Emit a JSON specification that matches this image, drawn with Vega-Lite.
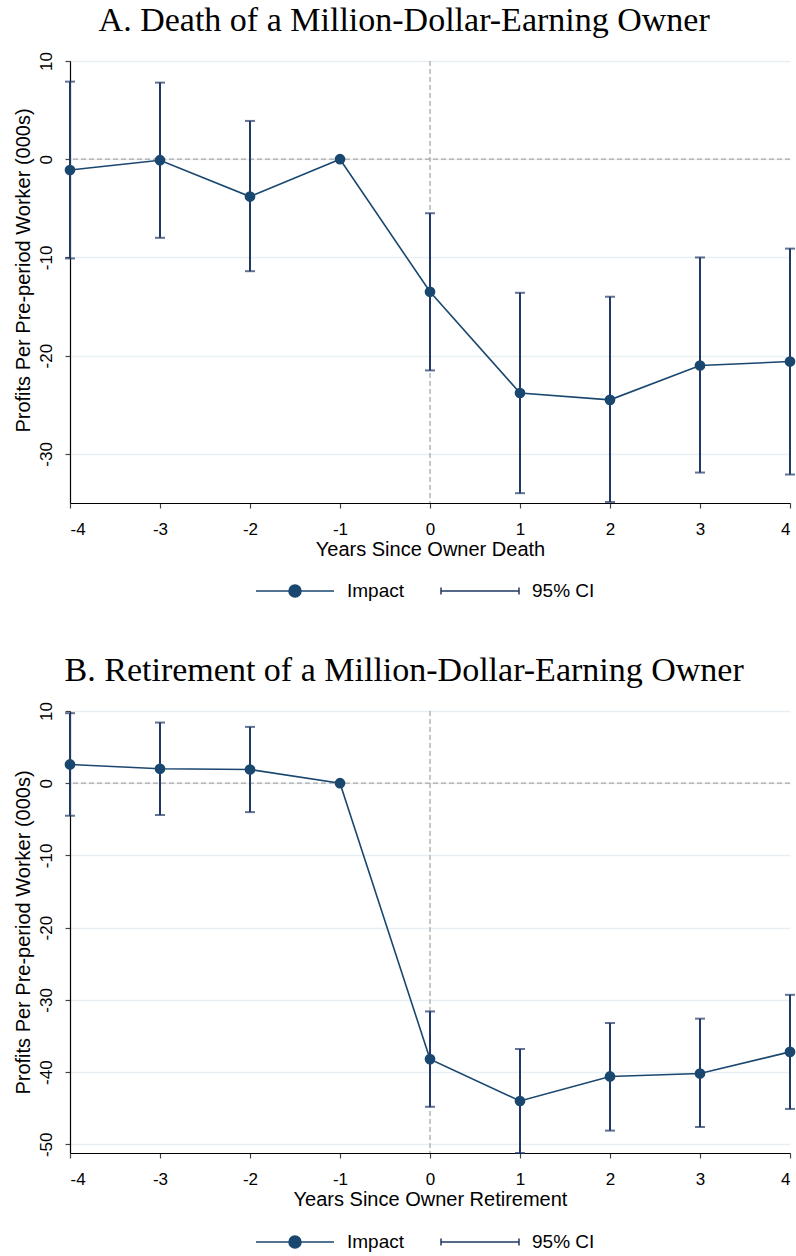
{
  "$schema": "https://vega.github.io/schema/vega-lite/v6.json",
  "background": "white",
  "padding": {"left": 13, "top": 3, "right": 5, "bottom": 2},
  "datasets": {
    "death": [
      {"year": -4, "est": -1.1, "lo": -10.1, "hi": 7.9},
      {"year": -3, "est": -0.1, "lo": -8.0, "hi": 7.8},
      {"year": -2, "est": -3.8, "lo": -11.4, "hi": 3.9},
      {"year": -1, "est": 0, "lo": null, "hi": null},
      {"year": 0, "est": -13.5, "lo": -21.5, "hi": -5.5},
      {"year": 1, "est": -23.8, "lo": -34.0, "hi": -13.6},
      {"year": 2, "est": -24.5, "lo": -34.9, "hi": -14.0},
      {"year": 3, "est": -21.0, "lo": -31.9, "hi": -10.0},
      {"year": 4, "est": -20.6, "lo": -32.1, "hi": -9.1}
    ],
    "retire": [
      {"year": -4, "est": 2.6, "lo": -4.5, "hi": 9.7},
      {"year": -3, "est": 2.0, "lo": -4.4, "hi": 8.4},
      {"year": -2, "est": 1.9, "lo": -4.0, "hi": 7.8},
      {"year": -1, "est": 0, "lo": null, "hi": null},
      {"year": 0, "est": -38.2, "lo": -44.8, "hi": -31.6},
      {"year": 1, "est": -44.0, "lo": -51.2, "hi": -36.8},
      {"year": 2, "est": -40.6, "lo": -48.1, "hi": -33.2},
      {"year": 3, "est": -40.2, "lo": -47.6, "hi": -32.6},
      {"year": 4, "est": -37.2, "lo": -45.1, "hi": -29.3}
    ],
    "ref": [{"ref": 0}]
  },
  "config": {
    "view": {"stroke": null},
    "axis": {
      "labelFont": "Liberation Sans", "titleFont": "Liberation Sans",
      "labelFontSize": 17, "titleFontSize": 20, "labelColor": "#000", "titleColor": "#000",
      "titleFontWeight": "normal", "domainColor": "#000", "domainWidth": 1.2,
      "tickColor": "#444", "tickWidth": 1.2, "tickSize": 5,
      "gridColor": "#e8eff3", "gridWidth": 1.5,
      "labelExpr": "'' + datum.value"
    },
    "title": {"font": "Liberation Serif", "fontSize": 34, "fontWeight": "normal", "color": "#000", "anchor": "middle", "frame": "bounds"},
    "legend": {
      "labelFont": "Liberation Sans", "labelFontSize": 19, "labelColor": "#000",
      "padding": 0, "offset": 0, "columnPadding": 33, "labelOffset": 12, "symbolSize": 6084, "symbolStrokeWidth": 1.5
    }
  },
  "spacing": 52,
  "resolve": {"scale": {"color": "independent"}, "legend": {"color": "independent"}},
  "vconcat": [
    {
      "title": {"text": "A. Death of a Million-Dollar-Earning Owner", "offset": 14},
      "width": 720, "height": 442,
      "layer": [
        {
          "data": {"name": "ref"},
          "mark": {"type": "rule", "color": "#a8a8a8", "strokeWidth": 1.3, "strokeDash": [5, 3]},
          "encoding": {"y": {"field": "ref", "type": "quantitative", "title": "Profits Per Pre-period Worker (000s)"}}
        },
        {
          "data": {"name": "ref"},
          "mark": {"type": "rule", "color": "#a8a8a8", "strokeWidth": 1.3, "strokeDash": [5, 3]},
          "encoding": {"x": {"field": "ref", "type": "quantitative", "title": "Years Since Owner Death"}}
        },
        {
          "data": {"name": "death"},
          "mark": {"type": "rule", "strokeWidth": 2},
          "encoding": {
            "x": {"field": "year", "type": "quantitative", "title": "Years Since Owner Death"},
            "y": {"field": "lo", "type": "quantitative", "title": "Profits Per Pre-period Worker (000s)"},
            "y2": {"field": "hi"},
            "color": {"datum": "95% CI", "type": "nominal", "scale": {"domain": ["Impact", "95% CI"], "range": ["#1a476f", "#1f3866"]}, "legend": {
              "orient": "none", "direction": "horizontal", "title": null, "legendX": 185, "legendY": 490,
              "encode": {"symbols": {"update": {
                "shape": [{"test": "datum.value === 'Impact'", "value": "M-1,0L1,0M0.154,0A0.154,0.154,0,1,1,-0.154,0A0.154,0.154,0,1,1,0.154,0Z"}, {"value": "M-1,0L1,0M-1,-0.09L-1,0.09M1,-0.09L1,0.09"}],
                "fill": [{"test": "datum.value === 'Impact'", "value": "#1a476f"}, {"value": "transparent"}],
                "stroke": [{"test": "datum.value === 'Impact'", "value": "#1a476f"}, {"value": "#1f3866"}],
                "strokeWidth": {"value": 1.5},
                "opacity": {"value": 1}
              }}}
            }}
          }
        },
        {
          "data": {"name": "death"},
          "mark": {"type": "tick", "orient": "horizontal", "size": 10, "thickness": 2},
          "encoding": {
            "x": {"field": "year", "type": "quantitative", "title": "Years Since Owner Death"},
            "y": {"field": "lo", "type": "quantitative", "title": "Profits Per Pre-period Worker (000s)"},
            "color": {"datum": "95% CI", "type": "nominal"}
          }
        },
        {
          "data": {"name": "death"},
          "mark": {"type": "tick", "orient": "horizontal", "size": 10, "thickness": 2},
          "encoding": {
            "x": {"field": "year", "type": "quantitative", "title": "Years Since Owner Death"},
            "y": {"field": "hi", "type": "quantitative", "title": "Profits Per Pre-period Worker (000s)"},
            "color": {"datum": "95% CI", "type": "nominal"}
          }
        },
        {
          "data": {"name": "death"},
          "mark": {"type": "line", "strokeWidth": 1.6},
          "encoding": {
            "x": {"field": "year", "type": "quantitative", "title": "Years Since Owner Death",
              "scale": {"domain": [-4, 4], "nice": false, "zero": false},
              "axis": {"values": [-4, -3, -2, -1, 0, 1, 2, 3, 4], "grid": false, "labelPadding": 13, "titlePadding": 2}},
            "y": {"field": "est", "type": "quantitative", "title": "Profits Per Pre-period Worker (000s)",
              "scale": {"domain": [-35, 10], "nice": false, "zero": false},
              "axis": {"values": [10, 0, -10, -20, -30], "grid": true, "labelAngle": -90, "labelPadding": 10, "titlePadding": 4, "titleY": 209}},
            "color": {"datum": "Impact", "type": "nominal"}
          }
        },
        {
          "data": {"name": "death"},
          "mark": {"type": "point", "filled": true, "size": 115, "opacity": 1},
          "encoding": {
            "x": {"field": "year", "type": "quantitative", "title": "Years Since Owner Death"},
            "y": {"field": "est", "type": "quantitative", "title": "Profits Per Pre-period Worker (000s)"},
            "color": {"datum": "Impact", "type": "nominal"}
          }
        }
      ]
    },
    {
      "title": {"text": "B. Retirement of a Million-Dollar-Earning Owner", "offset": 14},
      "width": 720, "height": 442,
      "layer": [
        {
          "data": {"name": "ref"},
          "mark": {"type": "rule", "color": "#a8a8a8", "strokeWidth": 1.3, "strokeDash": [5, 3]},
          "encoding": {"y": {"field": "ref", "type": "quantitative", "title": "Profits Per Pre-period Worker (000s)"}}
        },
        {
          "data": {"name": "ref"},
          "mark": {"type": "rule", "color": "#a8a8a8", "strokeWidth": 1.3, "strokeDash": [5, 3]},
          "encoding": {"x": {"field": "ref", "type": "quantitative", "title": "Years Since Owner Retirement"}}
        },
        {
          "data": {"name": "retire"},
          "mark": {"type": "rule", "strokeWidth": 2},
          "encoding": {
            "x": {"field": "year", "type": "quantitative", "title": "Years Since Owner Retirement"},
            "y": {"field": "lo", "type": "quantitative", "title": "Profits Per Pre-period Worker (000s)"},
            "y2": {"field": "hi"},
            "color": {"datum": "95% CI", "type": "nominal", "scale": {"domain": ["Impact", "95% CI"], "range": ["#1a476f", "#1f3866"]}, "legend": {
              "orient": "none", "direction": "horizontal", "title": null, "legendX": 185, "legendY": 491,
              "encode": {"symbols": {"update": {
                "shape": [{"test": "datum.value === 'Impact'", "value": "M-1,0L1,0M0.154,0A0.154,0.154,0,1,1,-0.154,0A0.154,0.154,0,1,1,0.154,0Z"}, {"value": "M-1,0L1,0M-1,-0.09L-1,0.09M1,-0.09L1,0.09"}],
                "fill": [{"test": "datum.value === 'Impact'", "value": "#1a476f"}, {"value": "transparent"}],
                "stroke": [{"test": "datum.value === 'Impact'", "value": "#1a476f"}, {"value": "#1f3866"}],
                "strokeWidth": {"value": 1.5},
                "opacity": {"value": 1}
              }}}
            }}
          }
        },
        {
          "data": {"name": "retire"},
          "mark": {"type": "tick", "orient": "horizontal", "size": 10, "thickness": 2},
          "encoding": {
            "x": {"field": "year", "type": "quantitative", "title": "Years Since Owner Retirement"},
            "y": {"field": "lo", "type": "quantitative", "title": "Profits Per Pre-period Worker (000s)"},
            "color": {"datum": "95% CI", "type": "nominal"}
          }
        },
        {
          "data": {"name": "retire"},
          "mark": {"type": "tick", "orient": "horizontal", "size": 10, "thickness": 2},
          "encoding": {
            "x": {"field": "year", "type": "quantitative", "title": "Years Since Owner Retirement"},
            "y": {"field": "hi", "type": "quantitative", "title": "Profits Per Pre-period Worker (000s)"},
            "color": {"datum": "95% CI", "type": "nominal"}
          }
        },
        {
          "data": {"name": "retire"},
          "mark": {"type": "line", "strokeWidth": 1.6},
          "encoding": {
            "x": {"field": "year", "type": "quantitative", "title": "Years Since Owner Retirement",
              "scale": {"domain": [-4, 4], "nice": false, "zero": false},
              "axis": {"values": [-4, -3, -2, -1, 0, 1, 2, 3, 4], "grid": false, "labelPadding": 13, "titlePadding": 2}},
            "y": {"field": "est", "type": "quantitative", "title": "Profits Per Pre-period Worker (000s)",
              "scale": {"domain": [-51.2, 10], "nice": false, "zero": false},
              "axis": {"values": [10, 0, -10, -20, -30, -40, -50], "grid": true, "labelAngle": -90, "labelPadding": 10, "titlePadding": 4}},
            "color": {"datum": "Impact", "type": "nominal"}
          }
        },
        {
          "data": {"name": "retire"},
          "mark": {"type": "point", "filled": true, "size": 115, "opacity": 1},
          "encoding": {
            "x": {"field": "year", "type": "quantitative", "title": "Years Since Owner Retirement"},
            "y": {"field": "est", "type": "quantitative", "title": "Profits Per Pre-period Worker (000s)"},
            "color": {"datum": "Impact", "type": "nominal"}
          }
        }
      ]
    }
  ]
}
